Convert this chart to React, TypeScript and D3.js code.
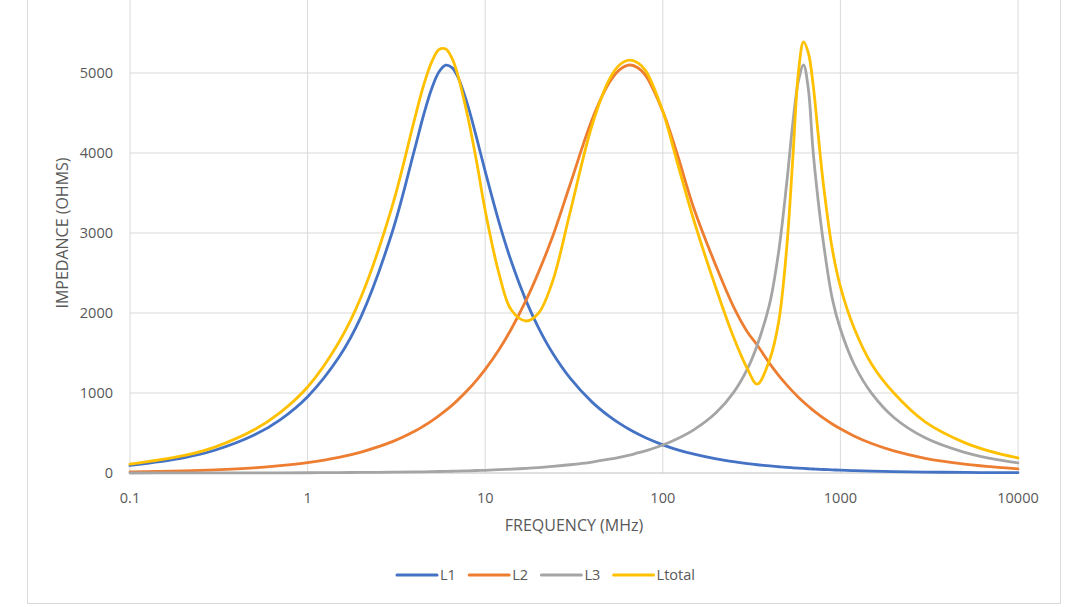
import * as d3 from "d3";

// frequency samples (MHz) and impedance readings (ohms) per series
const FREQ = [
  0.1, 0.2, 0.3, 0.5, 0.7, 1, 1.5, 2, 3, 4, 4.5, 5, 5.5, 6, 6.5, 7, 8, 9, 10, 12, 14, 17, 20, 24, 30, 40,
  50, 57, 65, 73, 80, 100, 120, 150, 200, 250, 300, 340, 400, 450, 500, 540, 580, 620, 660, 700, 750,
  800, 900, 1000, 1200, 1500, 2000, 3000, 5000, 7000, 10000,
];

const L1 = [
  94, 189, 284, 474, 665, 954, 1446, 1955, 3015, 4042, 4475, 4807, 5016, 5098, 5068, 4954, 4587, 4166,
  3770, 3123, 2649, 2152, 1812, 1497, 1189, 886, 707, 620, 543, 483, 440, 352, 293, 235, 176, 141, 117,
  103, 88, 78, 70, 65, 61, 57, 53, 50, 47, 44, 39, 35, 29, 23, 18, 12, 7, 5, 4,
];

const L2 = [
  13, 26, 39, 65, 92, 131, 196, 262, 392, 522, 587, 652, 717, 782, 846, 911, 1040, 1168, 1295, 1548,
  1797, 2161, 2514, 2959, 3600, 4420, 4880, 5040, 5100, 5060, 4970, 4520, 4000, 3300, 2580, 2080, 1760,
  1600, 1367, 1218, 1098, 1017, 948, 887, 834, 787, 735, 689, 613, 552, 460, 368, 276, 184, 111, 79, 52,
];

const L3 = [
  0, 1, 1, 2, 2, 3, 5, 7, 10, 14, 15, 17, 19, 20, 22, 24, 27, 31, 34, 41, 48, 58, 68, 82, 103, 137, 172,
  196, 224, 254, 277, 350, 425, 542, 756, 1005, 1305, 1598, 2120, 2780, 3650, 4380, 4900, 5100, 4800,
  4050, 3400, 2900, 2180, 1800, 1350, 995, 694, 440, 258, 183, 127,
];

const LTOTAL = [
  110, 216, 324, 540, 755, 1075, 1635, 2200, 3340, 4420, 4847, 5140, 5294, 5300, 5185, 4980, 4440, 3860,
  3280, 2480, 2040, 1900, 2000, 2400, 3250, 4350, 4920, 5100, 5160, 5120, 5030, 4520, 3900, 3150, 2300,
  1700, 1300, 1110, 1420, 1900, 2850, 3950, 5000, 5390, 5250, 4880, 4230, 3630, 2800, 2330, 1800, 1360,
  1000, 640, 380, 270, 188,
];

const SERIES = [
  { name: "L1", color: "#4472C4", values: L1 },
  { name: "L2", color: "#ED7D31", values: L2 },
  { name: "L3", color: "#A5A5A5", values: L3 },
  { name: "Ltotal", color: "#FFC000", values: LTOTAL },
];

const X_TICKS = [0.1, 1, 10, 100, 1000, 10000];
const Y_TICKS = [0, 1000, 2000, 3000, 4000, 5000];

const FONT = "'Open Sans', 'DejaVu Sans', sans-serif";
const TEXT = "#595959";
const GRID = "#d9d9d9";

export default function App() {
  const W = 1080;
  const H = 607;
  const left = 130;
  const right = 1018;
  const bottom = 473;

  const x = d3.scaleLog().domain([0.1, 10000]).range([left, right]);
  const y = d3.scaleLinear().domain([0, 6000]).range([bottom, -7]);

  const line = d3
    .line<number>()
    .x((_, i) => x(FREQ[i]))
    .y((d) => y(d))
    .curve(d3.curveCatmullRom.alpha(0.5));

  // legend layout
  let cursor = 397;
  const legend = SERIES.map((s) => {
    const item = { ...s, x: cursor };
    cursor += 43 + s.name.length * 6.6 + 16;
    return item;
  });

  return (
    <div style={{ position: "absolute", left: 0, top: 0 }}>
      <svg width={W} height={H} style={{ display: "block", background: "#fff" }}>
        <rect x={27.5} y={-10} width={1033} height={613.5} fill="#fff" stroke={GRID} />

        {/* grid */}
        {Y_TICKS.slice(1).map((t) => (
          <line key={"gy" + t} x1={left} x2={right} y1={y(t)} y2={y(t)} stroke={GRID} strokeWidth={1} />
        ))}
        {X_TICKS.map((t) => (
          <line key={"gx" + t} x1={x(t)} x2={x(t)} y1={-7} y2={bottom} stroke={GRID} strokeWidth={1} />
        ))}
        <line x1={left} x2={right} y1={bottom} y2={bottom} stroke="#bfbfbf" strokeWidth={1.2} />

        {/* y tick labels */}
        {Y_TICKS.map((t) => (
          <text
            key={"ty" + t}
            x={113}
            y={y(t)}
            dy="0.35em"
            textAnchor="end"
            fontFamily={FONT}
            fontSize={14.5}
            fill={TEXT}
          >
            {t}
          </text>
        ))}

        {/* x tick labels */}
        {X_TICKS.map((t) => (
          <text
            key={"tx" + t}
            x={x(t)}
            y={503}
            textAnchor="middle"
            fontFamily={FONT}
            fontSize={14.5}
            fill={TEXT}
          >
            {String(t)}
          </text>
        ))}

        {/* axis titles */}
        <text x={(left + right) / 2} y={531} textAnchor="middle" fontFamily={FONT} fontSize={16} fill={TEXT}>
          FREQUENCY (MHz)
        </text>
        <text
          transform={`translate(68,${(bottom - 7) / 2}) rotate(-90)`}
          textAnchor="middle"
          fontFamily={FONT}
          fontSize={16}
          fill={TEXT}
        >
          IMPEDANCE (OHMS)
        </text>

        {/* series */}
        {SERIES.map((s) => (
          <path
            key={s.name}
            d={line(s.values) || ""}
            fill="none"
            stroke={s.color}
            strokeWidth={2.8}
            strokeLinejoin="round"
            strokeLinecap="round"
          />
        ))}

        {/* legend */}
        {legend.map((s) => (
          <g key={"lg" + s.name} transform={`translate(${s.x},575)`}>
            <line x1={0} x2={40} y1={0} y2={0} stroke={s.color} strokeWidth={3} strokeLinecap="round" />
            <text x={43} y={0} dy="0.35em" fontFamily={FONT} fontSize={14.5} fill={TEXT}>
              {s.name}
            </text>
          </g>
        ))}
      </svg>
    </div>
  );
}
